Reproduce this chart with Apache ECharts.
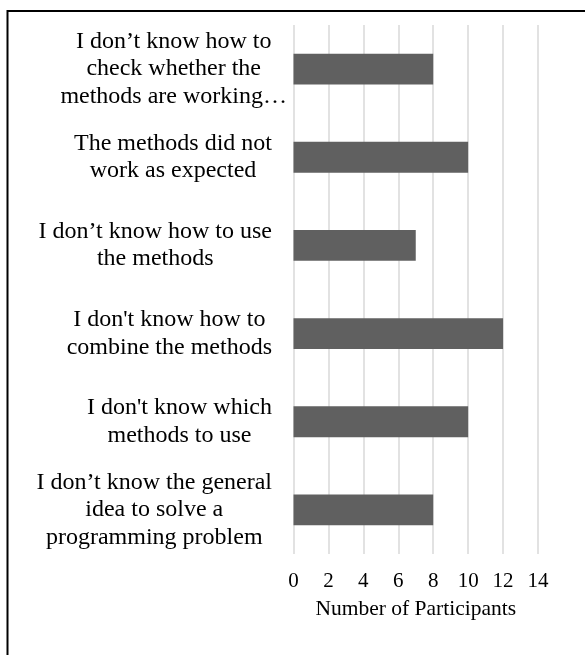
<!DOCTYPE html>
<html>
<head>
<meta charset="utf-8">
<script src="https://cdn.jsdelivr.net/npm/echarts@6/dist/echarts.min.js"></script>
<style>
html,body{margin:0;padding:0;background:#fff;}
#c{width:585px;height:655px;}
</style>
</head>
<body>
<div id="c"></div>
<script>
var categories = [
  "I don\u2019t know how to\ncheck whether the\nmethods are working\u2026",
  "The methods did not\nwork as expected",
  "I don\u2019t know how to use\nthe methods",
  "I don't know how to\ncombine the methods",
  "I don't know which\nmethods to use",
  "I don\u2019t know the general\nidea to solve a\nprogramming problem"
];
var participants = [8, 10, 7, 12, 10, 8];
var xTicks = [0, 14, 2];
var xAxisTitle = "Number of Participants";

var FONT = "'Liberation Serif', 'Times New Roman', serif";
var catData = categories.map(function (c, i) {
  if (i === 0) return { value: c, textStyle: { padding: [0, 0, 0, 0] } };
  return { value: c, textStyle: { padding: [0, 15, 0, 0] } };
});

var chart = echarts.init(document.getElementById('c'), null, { renderer: 'canvas' });
chart.setOption({
  animation: false,
  backgroundColor: '#ffffff',
  grid: { left: 293.5, right: 47, top: 25, bottom: 101, containLabel: false },
  graphic: [{
    type: 'rect', silent: true,
    shape: { x: 7.5, y: 11, width: 620, height: 700 },
    style: { fill: 'none', stroke: '#000', lineWidth: 2 }
  }],
  xAxis: {
    type: 'value',
    min: xTicks[0], max: xTicks[1], interval: xTicks[2],
    axisLine: { show: false },
    axisTick: { show: false },
    splitLine: { show: true, lineStyle: { color: '#d9d9d9', width: 1.5 } },
    axisLabel: { color: '#000', fontFamily: FONT, fontSize: 21, margin: 16.5 },
    name: xAxisTitle,
    nameLocation: 'middle',
    nameGap: 44,
    nameTextStyle: { color: '#000', fontFamily: FONT, fontSize: 21.5 }
  },
  yAxis: {
    type: 'category',
    inverse: true,
    data: catData,
    axisLine: { show: false },
    axisTick: { show: false },
    axisLabel: {
      align: 'right',
      margin: 6.5,
      fontFamily: FONT, fontSize: 24, color: '#000',
      formatter: function (v) {
        return v.split('\n').map(function (l) { return '{c|' + l + '}'; }).join('\n');
      },
      rich: { c: { align: 'center', fontFamily: FONT, fontSize: 24, lineHeight: 27.5, color: '#000' } }
    }
  },
  series: [{
    type: 'bar',
    data: participants,
    barWidth: '35%',
    itemStyle: { color: '#606060' }
  }]
});
</script>
</body>
</html>
